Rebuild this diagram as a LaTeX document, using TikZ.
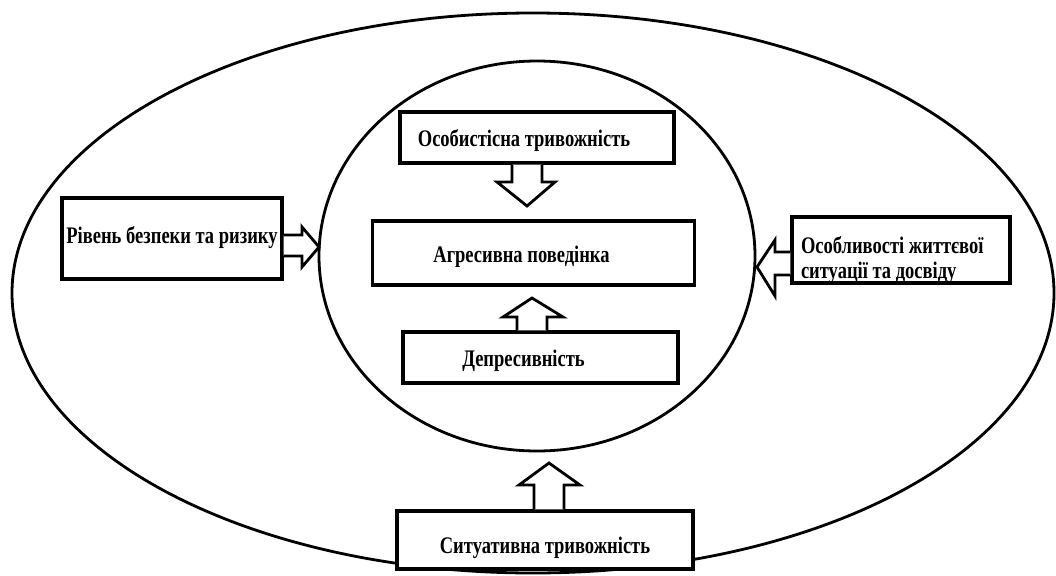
\documentclass[tikz,border=0pt]{standalone}
\usepackage{fontspec}
\setmainfont{Liberation Serif}[FakeStretch=0.78]
\newcommand{\lowtext}[2]{\smash{\raisebox{-#1}{#2}}}
\begin{document}
\begin{tikzpicture}[x=0.75pt,y=-0.75pt,
  box/.style={draw,line width=2.3pt,fill=white,inner sep=0pt,font=\fontsize{17.8}{20}\selectfont\bfseries},
  barrow/.style={draw,line width=2.1pt,fill=white,line join=miter},
  oval/.style={draw,line width=2.1pt}]
\useasboundingbox (0,0) rectangle (1056,575);
% ellipses
\draw[oval] (533,293) ellipse [x radius=521, y radius=280];
\draw[oval] (537,256) ellipse [x radius=218, y radius=195];
% boxes
\node[box,minimum width=205.5pt,minimum height=38.25pt] (osob) at (537,137.5) {\hspace*{-19.5pt}\lowtext{7.1pt}{Особистісна тривожність}};
\node[box,minimum width=241.5pt,minimum height=48pt] (agr) at (533.5,253) {\hspace*{-18pt}\lowtext{6.75pt}{Агресивна поведінка}};
\node[box,minimum width=206.25pt,minimum height=38.25pt] (dep) at (540.5,357.5) {\hspace*{-25.5pt}\lowtext{7.1pt}{Депресивність}};
\node[box,minimum width=165pt,minimum height=60.75pt] (riv) at (172,238.5) {\lowtext{3.4pt}{Рівень безпеки та ризику}};
\node[box,minimum width=163.5pt,minimum height=49.5pt] (zhyt) at (901,250) {\lowtext{2.25pt}{\parbox[t]{150pt}{\raggedright Особливості життєвої\\[-1.25pt] ситуації та досвіду}}};
\node[box,minimum width=222pt,minimum height=43.5pt] (sit) at (545,540) {\lowtext{9.75pt}{Ситуативна тривожність}};
% block arrows
\draw[barrow] (512,0 |- osob.south) -- (512,182) -- (497,182) -- (527,206) -- (555,182) -- (542,182) -- (542,0 |- osob.south);
\draw[barrow] (517,0 |- dep.north) -- (517,317) -- (503,317) -- (532,298) -- (563,317) -- (547,317) -- (547,0 |- dep.north);
\draw[barrow] (riv.east |- 0,235) -- (302,235) -- (302,227) -- (319,247) -- (302,267) -- (302,256) -- (riv.east |- 0,256);
\draw[barrow] (zhyt.west |- 0,252) -- (775,252) -- (775,240) -- (757,267) -- (775,296) -- (775,275) -- (zhyt.west |- 0,275);
\draw[barrow] (534,0 |- sit.north) -- (534,485) -- (519,485) -- (549,463) -- (580,485) -- (564,485) -- (564,0 |- sit.north);
\end{tikzpicture}
\end{document}
